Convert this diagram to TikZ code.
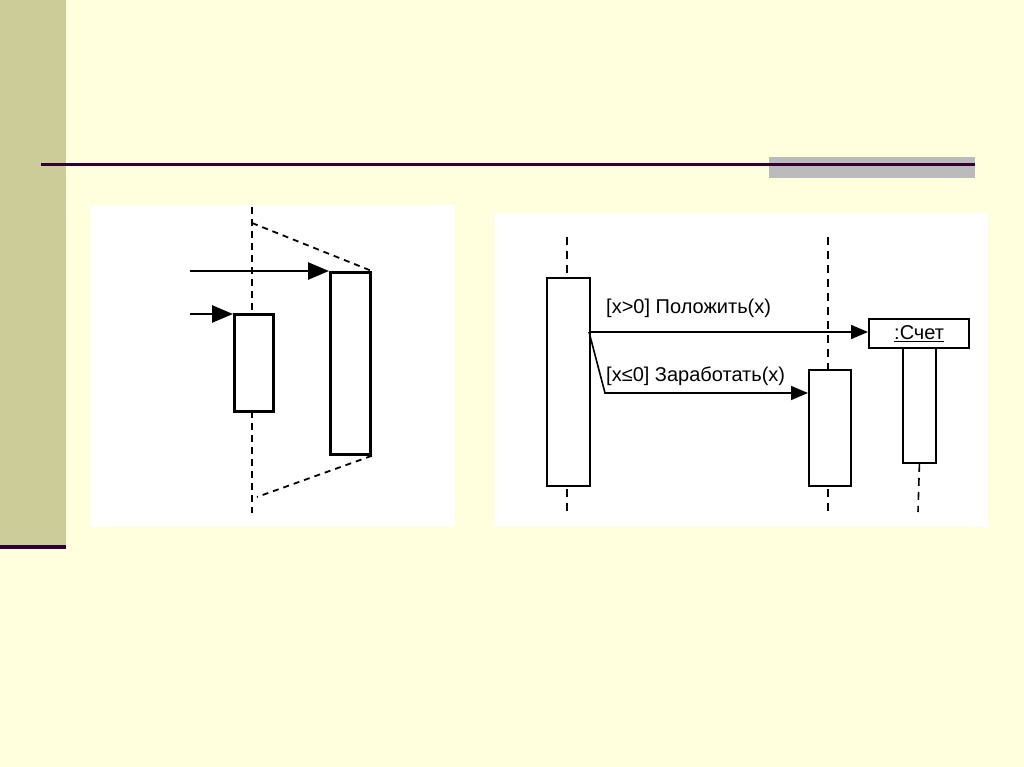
\documentclass[tikz,border=0pt]{standalone}
\usepackage{fontspec}
\setmainfont{Liberation Sans}
\usetikzlibrary{arrows.meta}
\definecolor{bgcream}{HTML}{FFFFDD}
\definecolor{olive}{HTML}{CCCC99}
\definecolor{darkline}{HTML}{330033}
\definecolor{barGray}{HTML}{BBBBBB}
\tikzset{
  panel/.style={fill=white, draw=none},
  actbox/.style={draw=black, fill=white, line width=2.8pt, inner sep=0pt, anchor=north west},
  actboxR/.style={draw=black, fill=white, line width=1.8pt, inner sep=0pt, anchor=north west},
  lifelineL/.style={draw=black, line width=2pt, dash pattern=on 7pt off 5pt},
  lifeline/.style={draw=black, line width=1.6pt, dash pattern=on 8pt off 6pt},
  projline/.style={draw=black, line width=1.8pt, dash pattern=on 6pt off 5pt},
  msgL/.style={draw=black, line width=2.6pt, -{Triangle[length=21pt,width=17pt]}},
  msgR/.style={draw=black, line width=1.6pt, -{Triangle[length=17pt,width=14pt]}},
  lbl/.style={font=\fontsize{20}{22}\selectfont, inner sep=0pt, anchor=west}
}
\begin{document}
\begin{tikzpicture}[x=1pt,y=-1pt]
\useasboundingbox (0,0) rectangle (1024,767);
\fill[bgcream] (0,0) rectangle (1024,767);
\fill[olive] (0,0) rectangle (66,547);
\fill[darkline] (0,545) rectangle (66,549);
\fill[barGray] (769,157) rectangle (975,178);
\fill[darkline] (41,163.5) rectangle (975,166.5);
% panels
\fill[panel] (91,205) rectangle (455,527);
\fill[panel] (495,213) rectangle (988,527);
% ---------- left diagram ----------
\coordinate (llTop) at (252,207);
\coordinate (llBot) at (252,513);
\coordinate (pTop) at (252,223);
\coordinate (pBot) at (257,497);
\coordinate (s1) at (190,271);
\coordinate (s2) at (190,314);
\draw[lifelineL] (llTop) -- (llBot);
\node[actbox, minimum width=39pt, minimum height=97pt] (small) at (233,313) {};
\node[actbox, minimum width=40pt, minimum height=182pt] (big) at (329,271) {};
\draw[projline] (pTop) -- (big.north east);
\draw[projline] (big.south east) -- (pBot);
\draw[msgL] (s1) -- (s1 -| big.west);
\draw[msgL] (s2) -- (s2 -| small.west);
% ---------- right diagram ----------
\coordinate (l1Top) at (567,237);
\coordinate (l1Bot) at (567,515);
\coordinate (l2Top) at (828,237);
\coordinate (l2Bot) at (828,515);
\coordinate (l3Bot) at (918,512);
\draw[lifeline] (l1Top) -- (l1Bot);
\draw[lifeline] (l2Top) -- (l2Bot);
\node[actboxR, minimum width=43pt, minimum height=208pt] (act1) at (546,277) {};
\node[actboxR, minimum width=42pt, minimum height=116pt] (act2) at (808,369) {};
\node[actboxR, minimum width=33pt, minimum height=115pt] (act3) at (902,347) {};
\draw[lifeline] (act3.south) -- (l3Bot);
\node[draw=black, fill=white, line width=2.2pt, minimum width=100pt, minimum height=29pt, inner sep=0pt, anchor=north west] (obj) at (868,318) {};
\node[font=\fontsize{20}{22}\selectfont, inner sep=0pt] (objtxt) at (obj.center) {\underline{:Счет}};
\coordinate (src) at (589,332);
\coordinate (bend) at (605,393);
\draw[msgR] (src) -- (src -| obj.west);
\draw[msgR] (src) -- (bend) -- (act2.west |- bend);
\node[lbl] (lab1) at (606,308) {[x>0] Положить(x)};
\node[lbl] (lab2) at (606,376) {[x≤0] Заработать(x)};
\end{tikzpicture}
\end{document}
